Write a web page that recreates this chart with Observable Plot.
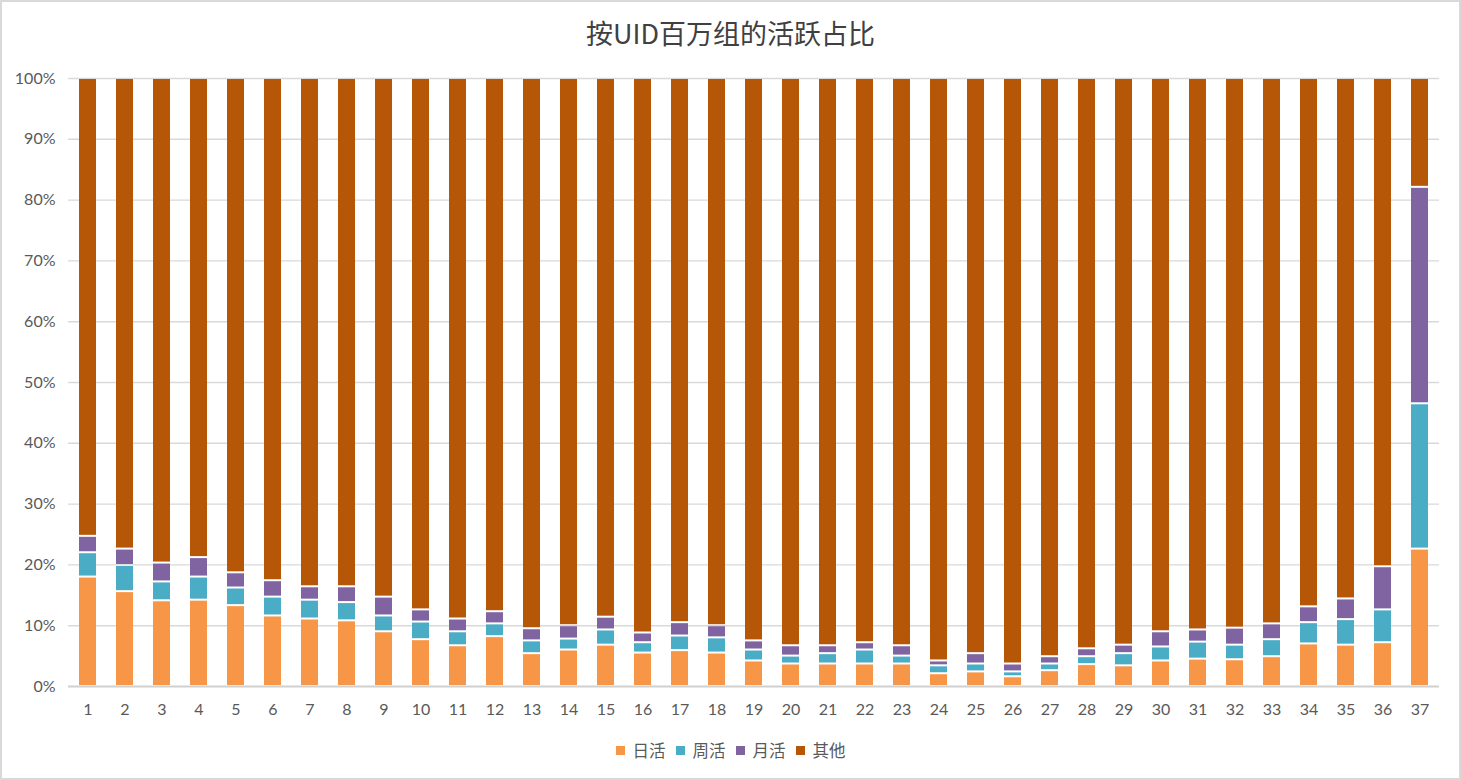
<!DOCTYPE html>
<html><head><meta charset="utf-8">
<script src="https://cdn.jsdelivr.net/npm/d3@7"></script>
<script src="https://cdn.jsdelivr.net/npm/@observablehq/plot@0.6"></script>
<style>
html,body{margin:0;padding:0;background:#fff;}
#wrap{position:relative;width:1461px;height:780px;overflow:hidden;background:#fff;}
#frame{position:absolute;left:0;top:0;width:1461px;height:780px;box-sizing:border-box;border:2px solid #d9d9d9;pointer-events:none;}
#title{position:absolute;left:0;width:1461px;top:12px;text-align:center;font-family:"Noto Sans CJK SC";font-size:27px;color:#404040;line-height:42px;}
#chart{position:absolute;left:0;top:0;}
#legend{position:absolute;left:0;width:1461px;top:737px;height:26px;display:flex;justify-content:center;align-items:center;font-family:"Noto Sans CJK SC";font-size:16.5px;color:#595959;}
.item{display:flex;align-items:center;margin:0 5px;}
.sw{width:9px;height:9px;margin-right:8px;}
</style></head>
<body>
<div id="wrap">
  <div id="chart"></div>
  <div id="title">按UID百万组的活跃占比</div>
  <div id="legend"></div>
  <div id="frame"></div>
</div>
<script>
const categories = ["1","2","3","4","5","6","7","8","9","10","11","12","13","14","15","16","17","18","19","20","21","22","23","24","25","26","27","28","29","30","31","32","33","34","35","36","37"];
const seriesNames = ["日活","周活","月活","其他"];
const seriesColors = ["#F79646","#4BACC6","#8064A2","#B65708"];
const daily   = [18.0,15.6,14.1,14.2,13.3,11.6,11.1,10.8,9.0,7.7,6.7,8.2,5.4,6.0,6.8,5.5,5.9,5.5,4.2,3.7,3.7,3.7,3.7,2.1,2.4,1.6,2.6,3.6,3.4,4.2,4.5,4.4,4.9,7.0,6.8,7.2,22.6];
const weekly  = [4.0,4.3,3.1,3.8,2.9,3.1,3.1,3.0,2.6,2.9,2.3,2.1,2.1,1.8,2.5,1.7,2.4,2.5,1.8,1.3,1.7,2.3,1.3,1.3,1.3,0.8,1.1,1.3,2.0,2.3,2.8,2.4,2.8,3.5,4.2,5.4,23.9];
const monthly = [2.7,2.7,3.1,3.2,2.5,2.7,2.2,2.6,3.1,2.0,2.1,2.0,2.0,2.2,2.1,1.6,2.2,2.0,1.5,1.7,1.3,1.2,1.7,0.8,1.7,1.3,1.2,1.3,1.4,2.5,2.0,2.8,2.6,2.6,3.4,7.1,35.6];
const other   = [75.3,77.4,79.7,78.8,81.3,82.6,83.6,83.6,85.3,87.4,88.9,87.7,90.5,90.0,88.6,91.2,89.5,90.0,92.5,93.3,93.3,92.8,93.3,95.8,94.6,96.3,95.1,93.8,93.2,91.0,90.7,90.4,89.7,86.9,85.6,80.3,17.9];
const yTicks = [0,10,20,30,40,50,60,70,80,90,100];

const seriesValues = [daily, weekly, monthly, other];
const rows = seriesNames.flatMap((s, i) => categories.map((c, j) => ({cat: c, series: s, value: seriesValues[i][j]})));

const chart = Plot.plot({
  width: 1461, height: 720,
  marginTop: 78, marginBottom: 34, marginLeft: 68, marginRight: 22,
  style: {fontFamily: "Lato", fontSize: "16px", color: "#595959", background: "transparent"},
  x: {type: "band", domain: categories, paddingInner: 0.54, paddingOuter: 0.27, label: null},
  y: {domain: [0, 100], label: null},
  color: {domain: seriesNames, range: seriesColors},
  marks: [
    Plot.gridY(yTicks.filter(d => d > 0), {stroke: "#d9d9d9", strokeOpacity: 1, strokeWidth: 1.4}),
    Plot.barY(rows, {x: "cat", y: "value", fill: "series", order: seriesNames, insetTop: 1, insetBottom: 1}),
    Plot.ruleY([0], {stroke: "#d0d0d0", strokeWidth: 2}),
    Plot.axisY({ticks: yTicks, tickSize: 0, tickPadding: 13, tickFormat: d => d + "%", label: null}),
    Plot.axisX({tickSize: 0, tickPadding: 17, label: null})
  ]
});
document.getElementById("chart").appendChild(chart);

const legend = document.getElementById("legend");
seriesNames.forEach((s, i) => {
  const item = document.createElement("div");
  item.className = "item";
  const sw = document.createElement("span");
  sw.className = "sw";
  sw.style.background = seriesColors[i];
  const t = document.createElement("span");
  t.textContent = s;
  item.appendChild(sw);
  item.appendChild(t);
  legend.appendChild(item);
});
</script>
</body></html>
